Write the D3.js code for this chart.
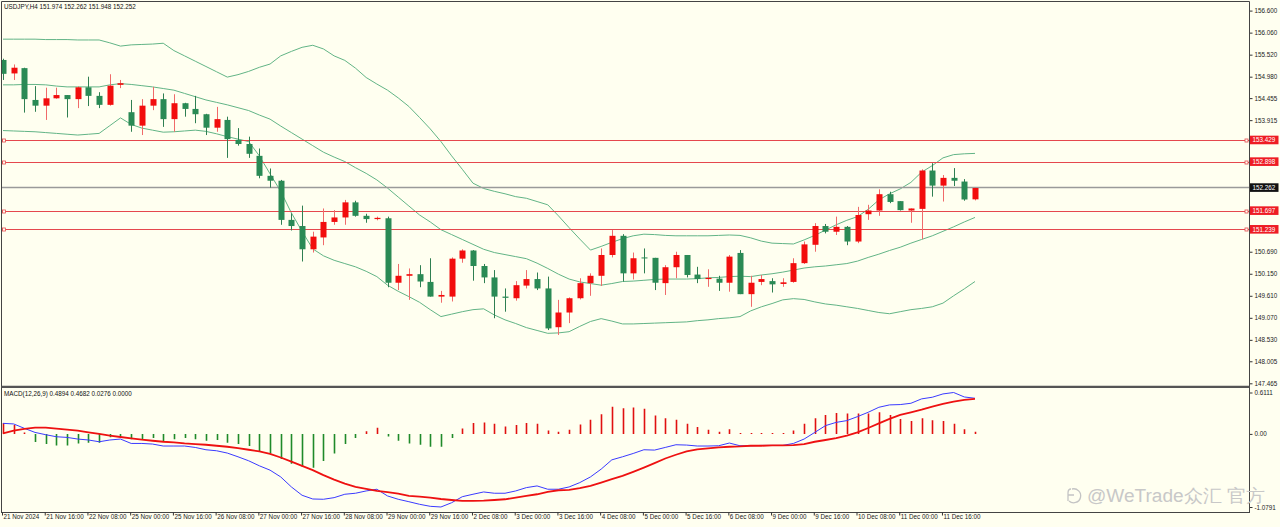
<!DOCTYPE html>
<html><head><meta charset="utf-8">
<script src="https://cdn.jsdelivr.net/npm/d3@7"></script>
<style>
html,body{margin:0;padding:0;background:#fffff0;overflow:hidden;}
svg{display:block;}
text{font-family:"Liberation Sans",Arial,sans-serif;}
</style></head><body><svg id="c" width="1280" height="527"></svg>
<script>
// ---------- DATA ----------
const opens=[155.39,155.06,155.19,154.41,154.27,154.45,154.53,154.43,154.72,154.51,
154.29,154.78,154.11,153.78,154.27,154.43,153.94,154.33,154.19,154.06,
153.73,153.92,153.43,153.33,153.04,152.55,152.43,151.47,151.32,150.75,
151.04,151.42,151.53,151.90,151.57,151.49,151.51,149.93,150.10,150.14,
149.95,149.59,149.59,150.52,150.72,150.34,150.06,149.59,149.55,149.86,
150.02,149.79,148.84,149.20,149.55,149.92,150.10,150.61,151.08,150.16,
150.55,150.54,149.92,150.31,150.61,150.13,150.02,150.03,149.93,150.66,
149.65,149.95,149.97,149.90,149.95,150.41,150.86,151.32,151.18,151.30,
150.94,151.61,151.70,152.10,151.93,151.70,151.74,152.68,152.31,152.50,
152.41,151.974];
const highs=[155.42,155.28,155.20,154.75,154.71,154.71,154.53,154.74,154.98,154.60,
155.04,154.90,154.41,154.43,154.73,154.57,154.55,154.34,154.51,154.07,
154.24,154.00,153.72,153.51,153.22,152.73,152.45,151.63,151.82,151.18,
151.75,151.71,151.96,151.94,151.62,151.55,151.55,150.39,150.28,150.36,
150.53,149.73,150.55,150.75,150.73,150.39,150.24,149.79,149.97,150.24,
150.18,150.08,149.51,149.57,150.04,150.16,150.77,151.22,151.12,150.67,
150.77,150.54,150.36,150.69,150.61,150.32,150.26,150.10,150.61,150.73,
150.10,150.12,150.04,150.04,150.53,150.94,151.39,151.37,151.55,151.32,
151.79,151.84,152.22,152.16,151.93,151.75,152.71,152.86,152.57,152.74,
152.47,152.262];
const lows=[154.90,154.90,154.10,154.12,153.92,154.44,153.98,154.21,154.26,154.21,
154.27,154.70,153.63,153.55,154.16,153.75,153.63,154.00,153.84,153.55,
153.63,152.99,153.29,152.99,152.49,152.26,151.35,151.21,150.45,150.67,
150.85,151.35,151.35,151.55,151.40,151.46,149.82,149.75,149.51,149.82,
149.59,149.44,149.47,150.42,149.98,149.92,149.06,149.22,149.49,149.79,
149.75,148.77,148.65,148.94,149.52,149.61,149.85,150.55,149.96,150.01,
150.16,149.75,149.63,150.04,150.06,149.92,149.83,149.73,149.71,149.65,
149.34,149.87,149.69,149.83,149.93,150.39,150.69,151.14,151.10,150.85,
150.90,151.47,151.57,151.88,151.70,151.40,151.00,152.04,151.92,152.30,
151.94,151.948];
const closes=[155.05,155.20,154.43,154.27,154.45,154.53,154.43,154.72,154.51,154.29,
154.76,154.82,153.78,154.27,154.43,153.94,154.33,154.19,154.06,153.73,
153.94,153.45,153.33,153.09,152.55,152.43,151.47,151.32,150.75,151.06,
151.42,151.53,151.90,151.57,151.49,151.52,149.93,150.10,150.14,149.96,
149.59,149.63,150.52,150.72,150.34,150.06,149.59,149.56,149.87,150.02,
149.79,148.81,149.20,149.55,149.92,150.10,150.61,151.08,150.16,150.53,
150.53,149.93,150.31,150.61,150.12,150.02,150.05,149.93,150.57,149.65,
149.93,150.02,149.89,149.94,150.41,150.87,151.32,151.18,151.30,150.94,
151.59,151.70,152.10,151.91,151.71,151.75,152.68,152.31,152.50,152.43,
151.97,152.252];
const bbUpper=[155.90,155.90,155.90,155.90,155.89,155.89,155.89,155.88,155.88,155.88,
155.81,155.73,155.76,155.77,155.78,155.80,155.62,155.49,155.36,155.23,
155.10,154.97,155.03,155.11,155.21,155.29,155.49,155.60,155.70,155.75,
155.66,155.49,155.38,155.19,154.96,154.80,154.65,154.46,154.25,153.98,
153.70,153.39,153.04,152.71,152.37,152.24,152.17,152.11,152.04,152.00,
151.92,151.84,151.57,151.28,151.00,150.73,150.82,150.92,151.01,151.08,
151.12,151.11,151.09,151.08,151.08,151.08,151.08,151.09,151.10,151.09,
151.03,150.95,150.90,150.89,150.88,150.98,151.09,151.22,151.35,151.46,
151.55,151.73,151.96,152.11,152.23,152.39,152.64,152.80,152.99,153.07,
153.09,153.10];
const bbMiddle=[154.78,154.78,154.79,154.79,154.78,154.75,154.73,154.73,154.73,154.73,
154.78,154.81,154.79,154.76,154.73,154.69,154.65,154.57,154.49,154.41,
154.35,154.29,154.22,154.15,154.04,153.94,153.77,153.61,153.45,153.29,
153.13,153.01,152.90,152.75,152.61,152.45,152.25,152.03,151.81,151.59,
151.42,151.23,151.11,150.99,150.87,150.75,150.67,150.62,150.57,150.52,
150.41,150.28,150.14,150.02,149.95,149.91,149.87,149.91,149.96,149.97,
149.99,150.01,150.02,150.02,150.02,150.03,150.05,150.06,150.08,150.09,
150.08,150.12,150.15,150.19,150.24,150.29,150.32,150.34,150.37,150.40,
150.46,150.55,150.63,150.72,150.80,150.90,150.99,151.08,151.19,151.30,
151.42,151.53];
const bbLower=[153.66,153.65,153.64,153.63,153.61,153.59,153.57,153.55,153.57,153.59,
153.78,153.97,153.81,153.72,153.67,153.62,153.63,153.65,153.67,153.64,
153.58,153.51,153.45,153.39,153.04,152.60,152.17,151.64,151.19,150.76,
150.59,150.48,150.40,150.32,150.21,150.08,149.87,149.72,149.59,149.45,
149.27,149.10,149.16,149.22,149.27,149.29,149.14,149.02,148.93,148.83,
148.76,148.69,148.70,148.73,148.86,148.98,149.05,148.99,148.92,148.92,
148.93,148.94,148.95,148.96,148.97,149.00,149.02,149.05,149.07,149.10,
149.24,149.34,149.42,149.51,149.54,149.52,149.46,149.41,149.38,149.34,
149.30,149.25,149.20,149.17,149.22,149.27,149.30,149.34,149.43,149.61,
149.78,149.96];
const macdHist=[0.16,0.13,0.02,-0.12,-0.15,-0.17,-0.17,-0.14,-0.13,-0.13,
-0.05,-0.03,-0.08,-0.08,-0.06,-0.11,-0.08,-0.06,-0.08,-0.10,
-0.09,-0.13,-0.15,-0.18,-0.26,-0.29,-0.37,-0.44,-0.49,-0.50,
-0.40,-0.29,-0.15,-0.06,0.04,0.09,-0.04,-0.10,-0.14,-0.16,
-0.19,-0.19,-0.06,0.08,0.16,0.17,0.15,0.11,0.13,0.16,
0.15,0.05,0.03,0.06,0.14,0.21,0.29,0.40,0.38,0.39,
0.37,0.27,0.23,0.21,0.15,0.10,0.06,0.03,0.07,0.01,
0.01,0.01,0.01,0.01,0.05,0.15,0.23,0.28,0.31,0.30,
0.30,0.30,0.32,0.28,0.22,0.19,0.23,0.20,0.19,0.15,
0.07,0.03];
const macdMain=[0.156,0.147,0.082,0.022,-0.012,-0.042,-0.052,-0.076,-0.090,-0.116,
-0.090,-0.076,-0.141,-0.141,-0.150,-0.179,-0.179,-0.179,-0.200,-0.234,
-0.249,-0.283,-0.338,-0.397,-0.471,-0.535,-0.635,-0.783,-0.906,-0.961,
-0.965,-0.941,-0.891,-0.876,-0.842,-0.817,-0.916,-0.965,-1.001,-1.039,
-1.069,-1.079,-1.016,-0.927,-0.891,-0.857,-0.876,-0.876,-0.842,-0.793,
-0.768,-0.817,-0.817,-0.783,-0.719,-0.635,-0.520,-0.383,-0.338,-0.289,
-0.234,-0.239,-0.200,-0.160,-0.165,-0.179,-0.179,-0.175,-0.135,-0.175,
-0.175,-0.170,-0.170,-0.170,-0.141,-0.076,0.022,0.122,0.170,0.196,
0.255,0.319,0.393,0.428,0.433,0.452,0.517,0.541,0.590,0.611,
0.545,0.526];
const macdSignal=[0.007,0.047,0.073,0.092,0.092,0.077,0.062,0.047,0.022,-0.001,
-0.027,-0.046,-0.067,-0.086,-0.101,-0.116,-0.126,-0.141,-0.150,-0.160,
-0.175,-0.190,-0.209,-0.234,-0.259,-0.294,-0.348,-0.408,-0.471,-0.535,
-0.609,-0.675,-0.734,-0.783,-0.812,-0.842,-0.861,-0.882,-0.916,-0.927,
-0.941,-0.961,-0.976,-0.990,-0.990,-0.986,-0.976,-0.965,-0.941,-0.916,
-0.891,-0.857,-0.832,-0.827,-0.802,-0.768,-0.719,-0.669,-0.620,-0.560,
-0.497,-0.431,-0.363,-0.308,-0.259,-0.230,-0.215,-0.200,-0.190,-0.185,
-0.175,-0.175,-0.170,-0.170,-0.165,-0.150,-0.116,-0.090,-0.061,-0.027,
0.022,0.087,0.156,0.221,0.280,0.319,0.359,0.403,0.443,0.477,
0.503,0.517];
const timeLabels=["21 Nov 2024","21 Nov 16:00","22 Nov 08:00","25 Nov 00:00","25 Nov 16:00","26 Nov 08:00","27 Nov 00:00","27 Nov 16:00","28 Nov 08:00","29 Nov 00:00","29 Nov 16:00","2 Dec 08:00","3 Dec 00:00","3 Dec 16:00","4 Dec 08:00","5 Dec 00:00","5 Dec 16:00","6 Dec 08:00","9 Dec 00:00","9 Dec 16:00","10 Dec 08:00","11 Dec 00:00","11 Dec 16:00"];
const timeLabelIdx=[0,4,8,12,16,20,24,28,32,36,40,44,48,52,56,60,64,68,72,76,80,84,88];
const priceTicks=[156.600,156.060,155.520,154.980,154.455,153.915,153.375,152.835,152.295,151.770,151.230,150.690,150.150,149.610,149.070,148.530,148.005,147.465];
const levelLines=[153.429,152.898,151.697,151.239];
const bidPrice=152.262;
const macdTicks=[0.6111,0,-1.0791];
const macdTickLabels=["0.6111","0.00","-1.0791"];
const titleText="USDJPY,H4  151.974 152.262 151.948 152.252";
const macdTitle="MACD(12,26,9) 0.4894 0.4682 0.0276 0.0000";
const watermark="@WeTrade众汇 官方";

// ---------- DRAW ----------
const W=1280,H=527, axisX=1249.5;
const svg=d3.select("#c");
svg.append("rect").attr("width",W).attr("height",H).attr("fill","#fffff0");
const defs=svg.append("defs");
defs.append("clipPath").attr("id","mainClip").append("rect").attr("x",1.5).attr("y",2).attr("width",axisX-1.5).attr("height",384);
defs.append("clipPath").attr("id","macdClip").append("rect").attr("x",1.5).attr("y",388).attr("width",axisX-1.5).attr("height",124);

const x=d3.scaleLinear().domain([0,91]).range([3,975]);
const y=d3.scaleLinear().domain([147.465,156.6]).range([383.3,10.6]);
const ym=d3.scaleLinear().domain([-1.0791,0.6111]).range([507,392.5]);

const main=svg.append("g").attr("clip-path","url(#mainClip)");
// Bollinger bands
const bandLine=d3.line().x((d,i)=>x(i)).y(d=>y(d)).curve(d3.curveLinear);
[bbUpper,bbMiddle,bbLower].forEach(arr=>{
  main.append("path").attr("d",bandLine(arr)).attr("fill","none").attr("stroke","#62b486").attr("stroke-width",1);
});
// level lines
levelLines.forEach(v=>{
  main.append("line").attr("x1",2).attr("x2",axisX).attr("y1",Math.round(y(v))+0.5).attr("y2",Math.round(y(v))+0.5)
    .attr("stroke","#e5484d").attr("stroke-width",1);
});
main.append("line").attr("x1",2).attr("x2",axisX).attr("y1",y(bidPrice)).attr("y2",y(bidPrice))
  .attr("stroke","#9a9a9a").attr("stroke-width",1.5);
// candles
const idx=d3.range(opens.length);
const up="#f20d0d", dn="#2a8a55";
const cg=main.append("g");
cg.selectAll("line.w").data(idx).join("line").attr("class","w")
  .attr("x1",i=>Math.round(x(i))+0.5).attr("x2",i=>Math.round(x(i))+0.5)
  .attr("y1",i=>y(highs[i])).attr("y2",i=>y(lows[i]))
  .attr("stroke",i=>closes[i]>=opens[i]?"#f06a6a":"#2f7f52").attr("stroke-width",1);
cg.selectAll("rect.b").data(idx).join("rect").attr("class","b")
  .attr("x",i=>Math.round(x(i))-2.5).attr("width",6)
  .attr("y",i=>y(Math.max(opens[i],closes[i])))
  .attr("height",i=>Math.max(1,Math.abs(y(opens[i])-y(closes[i]))))
  .attr("fill",i=>closes[i]>=opens[i]?up:dn);
// small squares at ends of level lines
levelLines.forEach(v=>{
  [2.5,1245].forEach(px=>{
    svg.append("rect").attr("x",px).attr("y",Math.round(y(v))-1).attr("width",3).attr("height",3)
      .attr("fill","#fffff0").attr("stroke","#e5484d").attr("stroke-width",0.8);
  });
});
// title
svg.append("text").attr("x",4).attr("y",9.3).attr("font-size",6.3).attr("fill","#111").text(titleText);

// price axis (tick labels that sit under a price box are hidden by it, as in the terminal)
const boxed=levelLines.concat([bidPrice]);
const visibleTicks=priceTicks.filter(t=>boxed.every(b=>Math.abs(y(t)-y(b))>6));
const pa=svg.append("g").attr("transform",`translate(${axisX},0)`)
  .call(d3.axisRight(y).tickValues(visibleTicks).tickFormat(d3.format(".3f")).tickSize(3).tickPadding(2));
pa.select(".domain").remove();
pa.selectAll("line").attr("stroke","#333");
pa.selectAll("text").attr("font-size",6.3).attr("fill","#222").attr("font-family","Liberation Sans, Arial, sans-serif");

// price label boxes
function priceBox(v,fill){
  const yy=y(v);
  svg.append("rect").attr("x",axisX+0.5).attr("y",yy-4.3).attr("width",28.5).attr("height",8.6).attr("fill",fill);
  svg.append("text").attr("x",axisX+3).attr("y",yy+2.2).attr("font-size",6.3).attr("fill","#fff").text(v.toFixed(3));
}
levelLines.forEach(v=>priceBox(v,"#ee1c24"));
priceBox(bidPrice,"#111");

// ---------- MACD ----------
const mg=svg.append("g").attr("clip-path","url(#macdClip)");
mg.selectAll("line.h").data(idx).join("line").attr("class","h")
  .attr("x1",i=>Math.round(x(i))+0.5).attr("x2",i=>Math.round(x(i))+0.5)
  .attr("y1",ym(0)).attr("y2",i=>Math.abs(macdHist[i])<0.015?ym(0)-1:ym(macdHist[i]))
  .attr("stroke",i=>macdHist[i]>=0?"#e01010":"#1f8a2a").attr("stroke-width",1.6);
const ml=d3.line().x((d,i)=>x(i)).y(d=>ym(d));
mg.append("path").attr("d",ml(macdMain)).attr("fill","none").attr("stroke","#3a3aff").attr("stroke-width",1);
mg.append("path").attr("d",ml(macdSignal)).attr("fill","none").attr("stroke","#ee1111").attr("stroke-width",1.8);
svg.append("text").attr("x",4).attr("y",395.6).attr("font-size",6.3).attr("fill","#111").text(macdTitle);

const ma=svg.append("g").attr("transform",`translate(${axisX},0)`)
  .call(d3.axisRight(ym).tickValues(macdTicks).tickFormat((d,i)=>macdTickLabels[i]).tickSize(3).tickPadding(2));
ma.select(".domain").remove();
ma.selectAll("line").attr("stroke","#333");
ma.selectAll("text").attr("font-size",6.3).attr("fill","#222").attr("font-family","Liberation Sans, Arial, sans-serif");

// ---------- FRAMES ----------
svg.append("line").attr("x1",1.5).attr("x2",1.5).attr("y1",1.5).attr("y2",513).attr("stroke","#444").attr("stroke-width",1);
svg.append("line").attr("x1",1.5).attr("x2",axisX).attr("y1",1.5).attr("y2",1.5).attr("stroke","#444").attr("stroke-width",1);
svg.append("line").attr("x1",axisX).attr("x2",axisX).attr("y1",1.5).attr("y2",513).attr("stroke","#444").attr("stroke-width",1);
svg.append("line").attr("x1",1.5).attr("x2",axisX).attr("y1",386.8).attr("y2",386.8).attr("stroke","#555").attr("stroke-width",2.2);
svg.append("line").attr("x1",1.5).attr("x2",axisX).attr("y1",512.5).attr("y2",512.5).attr("stroke","#444").attr("stroke-width",1);

// time axis
const ta=svg.append("g").attr("transform","translate(0,512.5)")
  .call(d3.axisBottom(x).tickValues(timeLabelIdx).tickFormat((d,i)=>timeLabels[i]).tickSize(3).tickPadding(2));
ta.select(".domain").remove();
ta.selectAll(".tick line").attr("stroke","#333").attr("transform","translate(-1,0)");
ta.selectAll("text").attr("font-size",6.3).attr("fill","#222").attr("text-anchor","start")
  .attr("dx",0).attr("x",0).attr("dy","0.71em").attr("y",2.5).attr("font-family","Liberation Sans, Arial, sans-serif");

// watermark
const wm=svg.append("g").attr("fill","none").attr("stroke","#c4c4c4").attr("stroke-width",1.3);
wm.append("path").attr("d","M1072,489 a7,7 0 1 1 -3,12 M1068,495 h6 M1071,489 q-3,0 -3,4 v8");
svg.append("text").attr("x",1087).attr("y",501.5).attr("font-size",18).attr("fill","#c8c8c8")
  .attr("font-family","'Noto Sans CJK SC','Noto Sans',sans-serif").attr("font-weight",300)
  .attr("textLength",178).attr("lengthAdjust","spacingAndGlyphs").text(watermark);
</script></body></html>
